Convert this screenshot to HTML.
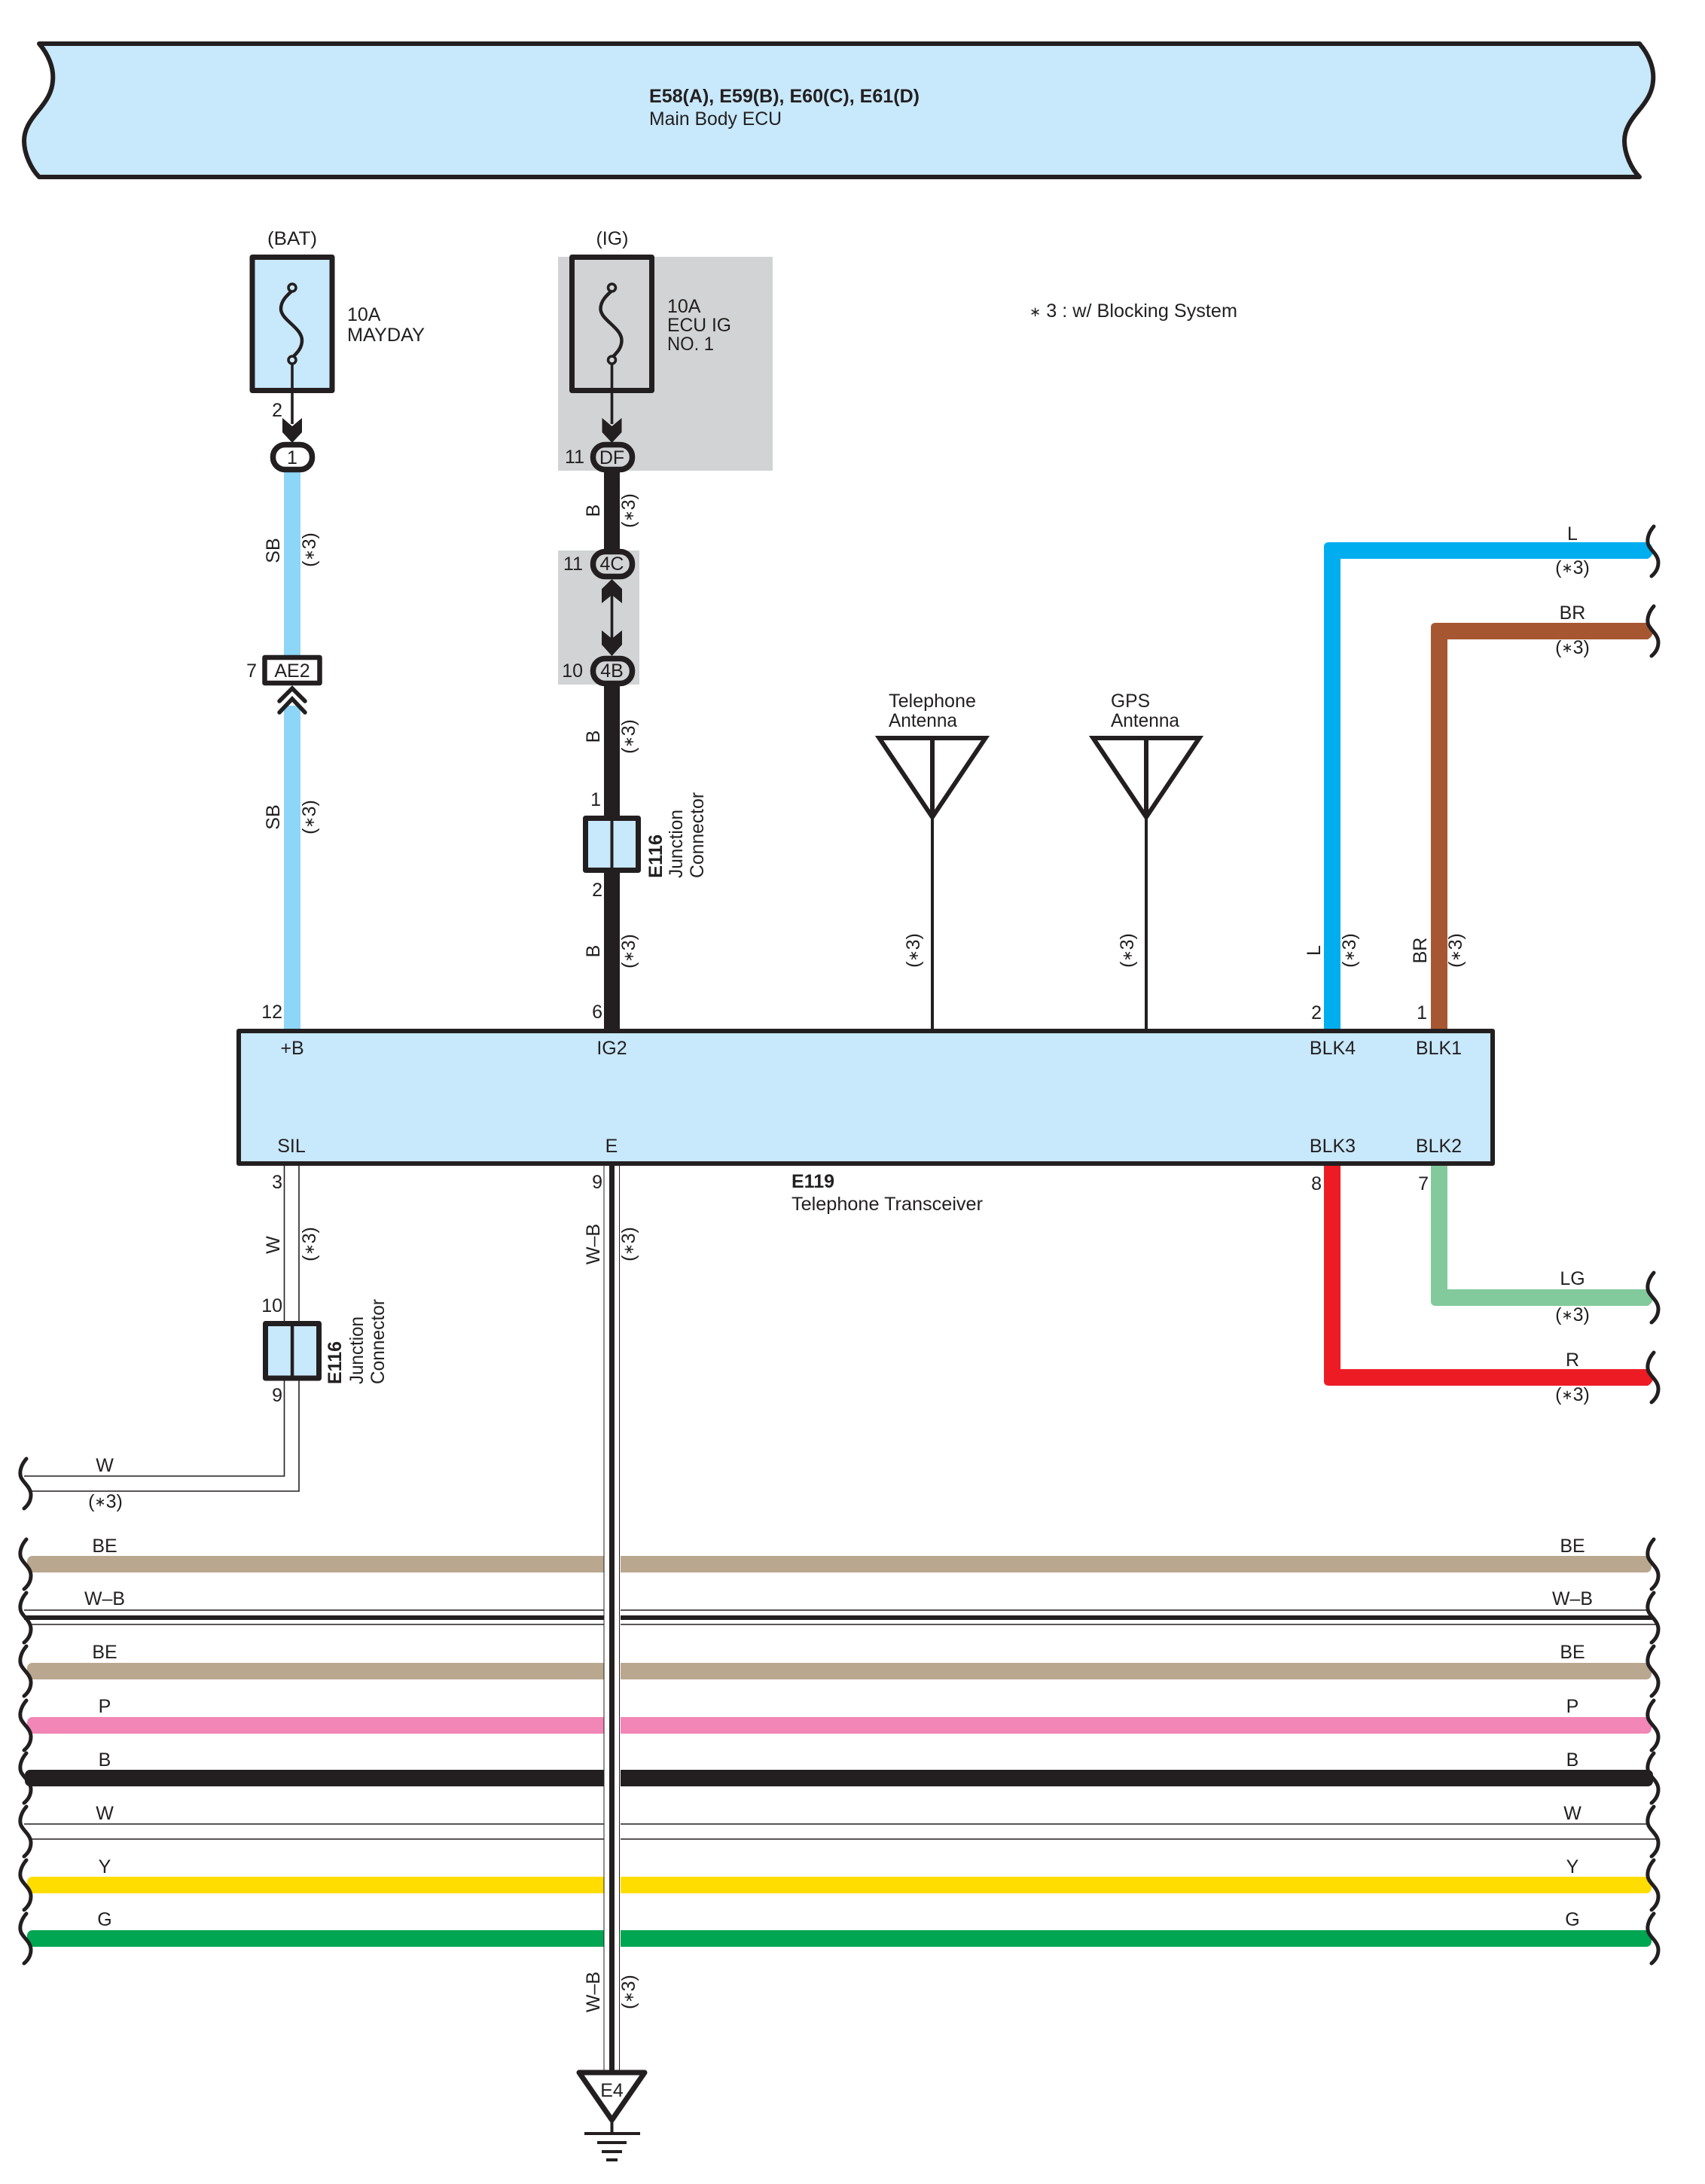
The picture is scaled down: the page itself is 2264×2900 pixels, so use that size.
<!DOCTYPE html>
<html><head><meta charset="utf-8"><style>
html,body{margin:0;padding:0;background:#fff}
svg{display:block}
text{font-family:"Liberation Sans",sans-serif;font-size:25px;fill:#231f20}
.m{text-anchor:middle}
.e{text-anchor:end}
.b{font-weight:bold}
.s{font-size:18px}
</style></head><body>
<svg width="2264" height="2900" viewBox="0 0 2264 2900" xmlns="http://www.w3.org/2000/svg">
<defs>
<path id="wv" d="M35,-33 C28,-25 25,-15 28,-8 C32,0 41,5 41,15 C41,22 38,28 32,33" fill="none" stroke="#231f20" stroke-width="5" stroke-linecap="round"/>
</defs>
<rect width="2264" height="2900" fill="#fff"/>

<!-- Banner -->
<path d="M52,58 H2177 C2189,72 2197,90 2195,108 C2194,122 2187,134 2175,148 C2165,160 2157,172 2157,187 C2157,205 2167,225 2177,235 H52 C42,225 32,205 32,187 C32,172 40,160 50,148 C62,134 69,122 70,108 C72,90 64,72 52,58 Z" fill="#c8e8fb" stroke="#231f20" stroke-width="6" stroke-linejoin="round"/>
<text class="b" x="862" y="136" textLength="359" lengthAdjust="spacingAndGlyphs">E58(A), E59(B), E60(C), E61(D)</text>
<text x="862" y="166" textLength="176" lengthAdjust="spacingAndGlyphs">Main Body ECU</text>

<!-- Gray bands -->
<rect x="741" y="341" width="285" height="284" fill="#d1d3d4"/>
<rect x="741" y="731" width="108" height="178" fill="#d1d3d4"/>

<!-- Wires -->
<rect x="377" y="627" width="22" height="243" fill="#8ed6f8"/>
<rect x="377" y="937" width="22" height="430" fill="#8ed6f8"/>
<rect x="802" y="620" width="21" height="112" fill="#231f20"/>
<rect x="802" y="908" width="21" height="460" fill="#231f20"/>

<!-- right coloured wires -->
<path d="M1758,1368 V726 Q1758,720 1765,720 H2188 Q2195,724 2195,731 Q2195,738 2188,742 H1780 V1368 Z" fill="#00aeef"/>
<path d="M1900,1368 V833 Q1900,827 1907,827 H2188 Q2195,831 2195,838 Q2195,845 2188,849 H1922 V1368 Z" fill="#a65732"/>
<path d="M1900,1548 V1728 Q1900,1734 1907,1734 H2188 Q2195,1730 2195,1723 Q2195,1716 2188,1712 H1922 V1548 Z" fill="#82ca9c"/>
<path d="M1758,1548 V1834 Q1758,1840 1765,1840 H2188 Q2195,1836 2195,1829 Q2195,1822 2188,1818 H1780 V1548 Z" fill="#ed1c24"/>

<!-- W wire -->
<path d="M377.5,1548 V1960 H32 M397,1548 V1980 H41" fill="none" stroke="#231f20" stroke-width="1.6"/>

<!-- Horizontal wires -->
<rect x="36" y="2066" width="2157" height="22" rx="7" fill="#b9a78f"/>
<rect x="36" y="2208" width="2157" height="22" rx="7" fill="#b9a78f"/>
<rect x="36" y="2280" width="2157" height="22" rx="7" fill="#f286b6"/>
<rect x="33" y="2350" width="2162" height="22" rx="7" fill="#231f20"/>
<rect x="36" y="2492" width="2157" height="22" rx="7" fill="#ffdd00"/>
<rect x="36" y="2563" width="2157" height="22" rx="7" fill="#00a651"/>
<path d="M32,2138 H2188 M41,2157 H2201 M32,2422 H2188 M41,2442 H2201" stroke="#231f20" stroke-width="1.5" fill="none"/>
<rect x="32" y="2145" width="2163" height="6" fill="#231f20"/>

<!-- Vertical W-B over everything -->
<rect x="802" y="1548" width="22" height="1201" fill="#fff"/>
<rect x="801.5" y="1548" width="1" height="1201" fill="#231f20"/>
<rect x="822" y="1548" width="1" height="1201" fill="#231f20"/>
<rect x="809" y="1548" width="7" height="1201" fill="#231f20"/>

<!-- Wave ends -->
<use href="#wv" x="0" y="1970"/>
<use href="#wv" x="0" y="2077"/><use href="#wv" x="0" y="2148"/><use href="#wv" x="0" y="2219"/><use href="#wv" x="0" y="2291"/>
<use href="#wv" x="0" y="2361"/><use href="#wv" x="0" y="2432"/><use href="#wv" x="0" y="2503"/><use href="#wv" x="0" y="2574"/>
<use href="#wv" x="2161" y="2077"/><use href="#wv" x="2161" y="2148"/><use href="#wv" x="2161" y="2219"/><use href="#wv" x="2161" y="2291"/>
<use href="#wv" x="2161" y="2361"/><use href="#wv" x="2161" y="2432"/><use href="#wv" x="2161" y="2503"/><use href="#wv" x="2161" y="2574"/>
<use href="#wv" x="2161" y="732"/><use href="#wv" x="2161" y="838"/><use href="#wv" x="2161" y="1723"/><use href="#wv" x="2161" y="1829"/>

<!-- Fuses -->
<rect x="335" y="341.5" width="106" height="177" fill="#c8e8fb" stroke="#231f20" stroke-width="7" stroke-linejoin="round"/>
<rect x="759.5" y="341.5" width="106" height="177" fill="#d1d3d4" stroke="#231f20" stroke-width="7" stroke-linejoin="round"/>
<g fill="none" stroke="#231f20" stroke-width="4.5">
<path d="M388,386 C380,393 373,400 373,410 C373,425 401,435 401,452 C401,462 395,468 388,475"/>
<path d="M812.5,386 C804.5,393 797.5,400 797.5,410 C797.5,425 825.5,435 825.5,452 C825.5,462 819.5,468 812.5,475"/>
<circle cx="388" cy="382" r="5" fill="#c8e8fb" stroke-width="3.5"/><circle cx="388" cy="478" r="5" fill="#c8e8fb" stroke-width="3.5"/>
<circle cx="812.5" cy="382" r="5" fill="#d1d3d4" stroke-width="3.5"/><circle cx="812.5" cy="478" r="5" fill="#d1d3d4" stroke-width="3.5"/>
</g>
<rect x="386.2" y="483" width="3.6" height="80" fill="#231f20"/>
<rect x="810.7" y="483" width="3.6" height="80" fill="#231f20"/>
<polygon points="375,555 388,566 401,555 401,574 388,588 375,574" fill="#231f20"/>
<polygon points="799.5,555 812.5,566 825.5,555 825.5,574 812.5,588 799.5,574" fill="#231f20"/>

<!-- Pills -->
<rect x="362.5" y="590.5" width="52" height="33" rx="16" fill="#fff" stroke="#231f20" stroke-width="7.5"/>
<rect x="787.5" y="590.5" width="52" height="33" rx="16" fill="#d1d3d4" stroke="#231f20" stroke-width="7.5"/>
<rect x="787.5" y="732.5" width="52" height="33" rx="16" fill="#d1d3d4" stroke="#231f20" stroke-width="7.5"/>
<rect x="787.5" y="874.5" width="52" height="33" rx="16" fill="#d1d3d4" stroke="#231f20" stroke-width="7.5"/>
<rect x="810.7" y="785" width="3.6" height="65" fill="#231f20"/>
<polygon points="812.5,769 826,782 826,801 812.5,790 799,801 799,782" fill="#231f20"/>
<polygon points="799,837 812.5,848 826,837 826,856 812.5,871 799,856" fill="#231f20"/>

<!-- AE2 -->
<rect x="351.5" y="873" width="73" height="34" fill="#fff" stroke="#231f20" stroke-width="6.5" stroke-linejoin="round"/>
<path d="M371,931 L388,914 L405,931 M371,946 L388,928 L405,946" fill="none" stroke="#231f20" stroke-width="5.5" stroke-linecap="round"/>

<!-- E116 -->
<rect x="777.5" y="1086.5" width="70" height="69" fill="#c8e8fb" stroke="#231f20" stroke-width="7" stroke-linejoin="round"/>
<rect x="810.5" y="1087" width="4" height="68" fill="#231f20"/>
<rect x="352.5" y="1757.5" width="71" height="72.5" fill="#c8e8fb" stroke="#231f20" stroke-width="7" stroke-linejoin="round"/>
<rect x="385.8" y="1758" width="4.5" height="72" fill="#231f20"/>

<!-- Antennas -->
<g fill="none" stroke="#231f20" stroke-width="6" stroke-linejoin="miter">
<path d="M1167.5,980 H1308.5 L1238,1085 Z"/><path d="M1238,980 V1085"/>
<path d="M1451.5,980 H1592.5 L1522,1085 Z"/><path d="M1522,980 V1085"/>
</g>
<rect x="1236" y="1085" width="4" height="283" fill="#231f20"/>
<rect x="1520" y="1085" width="4" height="283" fill="#231f20"/>

<!-- Main box -->
<rect x="317" y="1369" width="1665" height="176" fill="#c8e8fb" stroke="#231f20" stroke-width="6" stroke-linejoin="round"/>

<!-- Ground -->
<path d="M769,2752 H856 L812.5,2815 Z" fill="#fff" stroke="#231f20" stroke-width="7" stroke-linejoin="round"/>
<rect x="810.5" y="2815" width="4" height="17" fill="#231f20"/>
<path d="M776,2833 H850 M793,2845 H832 M799,2857 H826 M805,2868 H820" stroke="#231f20" stroke-width="4" fill="none"/>
<text class="m" x="812.5" y="2784">E4</text>

<!-- Labels top -->
<text class="m" x="388" y="325" textLength="66" lengthAdjust="spacingAndGlyphs">(BAT)</text>
<text class="m" x="813" y="325">(IG)</text>
<text x="461" y="426">10A</text>
<text x="461" y="453" textLength="103" lengthAdjust="spacingAndGlyphs">MAYDAY</text>
<text x="886" y="415">10A</text>
<text x="886" y="440" textLength="85" lengthAdjust="spacingAndGlyphs">ECU IG</text>
<text x="886" y="465" textLength="62" lengthAdjust="spacingAndGlyphs">NO. 1</text>
<text x="1367" y="421" textLength="276" lengthAdjust="spacingAndGlyphs"><tspan class="s" dy="-1">∗</tspan><tspan dy="1"> 3 : w/ Blocking System</tspan></text>
<text class="e" x="375" y="553">2</text>
<text class="m" x="388" y="616">1</text>
<text class="e" x="776" y="615">11</text>
<text class="m" x="812.5" y="616">DF</text>
<text class="e" x="774" y="757">11</text>
<text class="m" x="812.5" y="757">4C</text>
<text class="e" x="774" y="899">10</text>
<text class="m" x="812.5" y="899">4B</text>
<text class="m" x="388" y="899">AE2</text>
<text class="e" x="341" y="899">7</text>
<text class="e" x="798" y="1070">1</text>
<text class="e" x="800" y="1190">2</text>
<text class="e" x="375" y="1352">12</text>
<text class="e" x="800" y="1352">6</text>
<text class="e" x="1755" y="1353">2</text>
<text class="e" x="1895" y="1353">1</text>
<text class="e" x="1755" y="1580">8</text>
<text class="e" x="1897" y="1580">7</text>
<text class="e" x="375" y="1578">3</text>
<text class="e" x="800" y="1578">9</text>
<text class="e" x="375" y="1742">10</text>
<text class="e" x="375" y="1861">9</text>

<!-- Antenna labels -->
<text x="1180" y="939" textLength="116" lengthAdjust="spacingAndGlyphs">Telephone</text>
<text x="1180" y="965" textLength="91" lengthAdjust="spacingAndGlyphs">Antenna</text>
<text x="1475" y="939" textLength="52" lengthAdjust="spacingAndGlyphs">GPS</text>
<text x="1475" y="965" textLength="91" lengthAdjust="spacingAndGlyphs">Antenna</text>

<!-- Box labels -->
<text class="m" x="388" y="1400">+B</text>
<text class="m" x="812.5" y="1400">IG2</text>
<text class="m" x="1769.5" y="1400">BLK4</text>
<text class="m" x="1910.5" y="1400">BLK1</text>
<text class="m" x="387" y="1530">SIL</text>
<text class="m" x="812" y="1530">E</text>
<text class="m" x="1769.5" y="1530">BLK3</text>
<text class="m" x="1910.5" y="1530">BLK2</text>
<text class="b" x="1051" y="1577">E119</text>
<text x="1051" y="1607" textLength="254" lengthAdjust="spacingAndGlyphs">Telephone Transceiver</text>

<!-- Rotated labels -->
<text class="m" transform="rotate(-90 371 731)" x="371" y="731">SB</text>
<text class="m" transform="rotate(-90 419 730)" x="419" y="730">(<tspan class="s" dy="-2">∗</tspan><tspan dy="2">3)</tspan></text>
<text class="m" transform="rotate(-90 371 1085)" x="371" y="1085">SB</text>
<text class="m" transform="rotate(-90 419 1085)" x="419" y="1085">(<tspan class="s" dy="-2">∗</tspan><tspan dy="2">3)</tspan></text>
<text class="m" transform="rotate(-90 796 678)" x="796" y="678">B</text>
<text class="m" transform="rotate(-90 843 678)" x="843" y="678">(<tspan class="s" dy="-2">∗</tspan><tspan dy="2">3)</tspan></text>
<text class="m" transform="rotate(-90 796 978)" x="796" y="978">B</text>
<text class="m" transform="rotate(-90 843 978)" x="843" y="978">(<tspan class="s" dy="-2">∗</tspan><tspan dy="2">3)</tspan></text>
<text class="m" transform="rotate(-90 796 1263)" x="796" y="1263">B</text>
<text class="m" transform="rotate(-90 843 1263)" x="843" y="1263">(<tspan class="s" dy="-2">∗</tspan><tspan dy="2">3)</tspan></text>
<text class="m" transform="rotate(-90 1221 1262)" x="1221" y="1262">(<tspan class="s" dy="-2">∗</tspan><tspan dy="2">3)</tspan></text>
<text class="m" transform="rotate(-90 1505 1262)" x="1505" y="1262">(<tspan class="s" dy="-2">∗</tspan><tspan dy="2">3)</tspan></text>
<text class="m" transform="rotate(-90 1753 1262)" x="1753" y="1262">L</text>
<text class="m" transform="rotate(-90 1800 1262)" x="1800" y="1262">(<tspan class="s" dy="-2">∗</tspan><tspan dy="2">3)</tspan></text>
<text class="m" transform="rotate(-90 1894 1262)" x="1894" y="1262">BR</text>
<text class="m" transform="rotate(-90 1941 1262)" x="1941" y="1262">(<tspan class="s" dy="-2">∗</tspan><tspan dy="2">3)</tspan></text>
<text class="m" transform="rotate(-90 371 1653)" x="371" y="1653">W</text>
<text class="m" transform="rotate(-90 419 1652)" x="419" y="1652">(<tspan class="s" dy="-2">∗</tspan><tspan dy="2">3)</tspan></text>
<text class="m" transform="rotate(-90 796 1652)" x="796" y="1652">W–B</text>
<text class="m" transform="rotate(-90 843 1652)" x="843" y="1652">(<tspan class="s" dy="-2">∗</tspan><tspan dy="2">3)</tspan></text>
<text class="m" transform="rotate(-90 796 2645)" x="796" y="2645">W–B</text>
<text class="m" transform="rotate(-90 843 2645)" x="843" y="2645">(<tspan class="s" dy="-2">∗</tspan><tspan dy="2">3)</tspan></text>

<text class="b" transform="rotate(-90 879 1166)" x="879" y="1166" textLength="58" lengthAdjust="spacingAndGlyphs">E116</text>
<text transform="rotate(-90 906 1166)" x="906" y="1166" textLength="91" lengthAdjust="spacingAndGlyphs">Junction</text>
<text transform="rotate(-90 934 1166)" x="934" y="1166" textLength="114" lengthAdjust="spacingAndGlyphs">Connector</text>
<text class="b" transform="rotate(-90 453 1838)" x="453" y="1838" textLength="57" lengthAdjust="spacingAndGlyphs">E116</text>
<text transform="rotate(-90 482 1838)" x="482" y="1838" textLength="90" lengthAdjust="spacingAndGlyphs">Junction</text>
<text transform="rotate(-90 510 1838)" x="510" y="1838" textLength="113" lengthAdjust="spacingAndGlyphs">Connector</text>

<!-- Right wire labels -->
<text class="m" x="2088" y="717">L</text><text class="m" x="2088" y="762">(<tspan class="s" dy="-2">∗</tspan><tspan dy="2">3)</tspan></text>
<text class="m" x="2088" y="822">BR</text><text class="m" x="2088" y="868">(<tspan class="s" dy="-2">∗</tspan><tspan dy="2">3)</tspan></text>
<text class="m" x="2088" y="1706">LG</text><text class="m" x="2088" y="1754">(<tspan class="s" dy="-2">∗</tspan><tspan dy="2">3)</tspan></text>
<text class="m" x="2088" y="1814">R</text><text class="m" x="2088" y="1860">(<tspan class="s" dy="-2">∗</tspan><tspan dy="2">3)</tspan></text>

<!-- Bus labels left -->
<text class="m" x="139" y="1954">W</text><text class="m" x="140" y="2002">(<tspan class="s" dy="-2">∗</tspan><tspan dy="2">3)</tspan></text>
<text class="m" x="139" y="2061">BE</text>
<text class="m" x="139" y="2131" textLength="54" lengthAdjust="spacingAndGlyphs">W–B</text>
<text class="m" x="139" y="2202">BE</text>
<text class="m" x="139" y="2274">P</text>
<text class="m" x="139" y="2345">B</text>
<text class="m" x="139" y="2416">W</text>
<text class="m" x="139" y="2487">Y</text>
<text class="m" x="139" y="2557">G</text>
<!-- Bus labels right -->
<text class="m" x="2088" y="2061">BE</text>
<text class="m" x="2088" y="2131" textLength="54" lengthAdjust="spacingAndGlyphs">W–B</text>
<text class="m" x="2088" y="2202">BE</text>
<text class="m" x="2088" y="2274">P</text>
<text class="m" x="2088" y="2345">B</text>
<text class="m" x="2088" y="2416">W</text>
<text class="m" x="2088" y="2487">Y</text>
<text class="m" x="2088" y="2557">G</text>
</svg>
</body></html>
